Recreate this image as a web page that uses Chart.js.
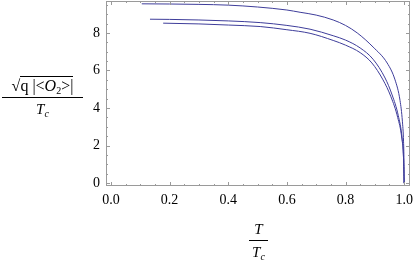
<!DOCTYPE html>
<html>
<head>
<meta charset="utf-8">
<script src="https://cdn.jsdelivr.net/npm/chart.js@4.4.0/dist/chart.umd.min.js"></script>
<style>
  html, body { margin: 0; padding: 0; background: #fff; }
  #wrap { position: relative; width: 415px; height: 262px; }
  .frac { position: absolute; font-family: "Liberation Serif", serif; font-size: 15px; color: #000; text-align: center; line-height: 16px; }
  .frac .num { display: block; border-bottom: 1px solid #000; padding-bottom: 3px; }
  .frac .den { display: block; padding-top: 3px; }
  .rad { border-top: 1px solid #000; }
  i { font-style: italic; }
  sub { font-size: 10px; vertical-align: -3px; line-height: 0; }
</style>
</head>
<body>
<div id="wrap">
  <canvas id="chart" width="415" height="262"></canvas>
  <div class="frac" id="ytitle" style="left:2px; top:78px; width:81px;">
    <span class="num" style="font-size:16px;">&radic;<span class="rad">q |&lt;<i>O</i><sub>2</sub>&gt;|</span></span>
    <span class="den"><i>T</i><sub><i>c</i></sub></span>
  </div>
  <div class="frac" id="xtitle" style="left:249px; top:221px; width:19px;">
    <span class="num"><i>T</i></span>
    <span class="den"><i>T</i><sub><i>c</i></sub></span>
  </div>
</div>
<script>
// three curves
const tA = [0.105, 0.2, 0.3, 0.4, 0.5, 0.6, 0.645, 0.7, 0.758, 0.8, 0.84, 0.894, 0.942, 0.969, 0.986, 0.994, 0.998, 0.9995, 1.0];
const vA = [9.55, 9.54, 9.52, 9.48, 9.38, 9.22, 9.1, 8.95, 8.69, 8.4, 8.0, 7.25, 6.4, 5.5, 4.4, 3.3, 2.2, 1.1, 0];

const tB = [0.133, 0.2, 0.3, 0.4, 0.509, 0.6, 0.679, 0.758, 0.8, 0.85, 0.894, 0.935, 0.959, 0.98, 0.993, 0.998, 1.0];
const vB = [8.73, 8.72, 8.69, 8.64, 8.55, 8.4, 8.2, 7.85, 7.62, 7.2, 6.6, 5.6, 4.7, 3.6, 2.4, 1.3, 0];

const tC = [0.178, 0.3, 0.4, 0.509, 0.6, 0.679, 0.758, 0.8, 0.85, 0.89, 0.928, 0.955, 0.978, 0.992, 0.998, 1.0];
const vC = [8.52, 8.48, 8.42, 8.34, 8.17, 7.98, 7.6, 7.35, 6.95, 6.4, 5.5, 4.6, 3.5, 2.4, 1.3, 0];

const xTicks = [0, 0.2, 0.4, 0.6, 0.8, 1.0];
const yTicks = [0, 2, 4, 6, 8];

const lineColor = '#3e3d9a';
const frameColor = '#9a9a9a';

const pts = (t, v) => t.map((x, i) => ({ x: x, y: v[i] }));

// Mathematica style frame with inward ticks on all four sides
const frameTicks = {
  id: 'frameTicks',
  afterDraw(chart) {
    const { ctx, chartArea: a, scales: { x, y } } = chart;
    ctx.save();
    ctx.strokeStyle = frameColor;
    ctx.lineWidth = 1;
    ctx.strokeRect(a.left + 0.5, a.top + 0.5, a.right - a.left - 1, a.bottom - a.top - 1);
    ctx.beginPath();
    for (let k = 0; k <= 20; k++) {
      const val = k * 0.05;
      const px = Math.round(x.getPixelForValue(val)) + 0.5;
      const len = k % 4 === 0 ? 4 : 2;
      ctx.moveTo(px, a.bottom); ctx.lineTo(px, a.bottom - len);
      ctx.moveTo(px, a.top); ctx.lineTo(px, a.top + len);
    }
    for (let k = 0; k <= 19; k++) {
      const val = k * 0.5;
      const py = Math.round(y.getPixelForValue(val)) + 0.5;
      const len = k % 4 === 0 ? 4 : 2;
      ctx.moveTo(a.left, py); ctx.lineTo(a.left + len, py);
      ctx.moveTo(a.right, py); ctx.lineTo(a.right - len, py);
    }
    ctx.stroke();
    ctx.restore();
  }
};

const noPad = s => { s.paddingTop = 0; s.paddingBottom = 0; s.paddingLeft = 0; s.paddingRight = 0; };

const ds = (data) => ({
  data: data,
  showLine: true,
  borderColor: lineColor,
  borderWidth: 1,
  pointRadius: 0,
  cubicInterpolationMode: 'monotone',
  fill: false
});

new Chart(document.getElementById('chart').getContext('2d'), {
  type: 'scatter',
  data: {
    datasets: [ds(pts(tA, vA)), ds(pts(tB, vB)), ds(pts(tC, vC))]
  },
  options: {
    responsive: false,
    animation: false,
    layout: { padding: { top: 1, right: 5, left: 0, bottom: 0 } },
    plugins: { legend: { display: false }, tooltip: { enabled: false } },
    scales: {
      x: {
        type: 'linear',
        min: -0.017,
        max: 1.02,
        afterBuildTicks: s => { s.ticks = xTicks.map(v => ({ value: v })); },
        afterFit: s => { s.height = 76; noPad(s); },
        grid: { display: false, drawTicks: false },
        border: { display: false },
        ticks: {
          padding: 6,
          color: '#000',
          font: { family: 'Liberation Serif', size: 14 },
          callback: v => v.toFixed(1)
        }
      },
      y: {
        type: 'linear',
        min: -0.15,
        max: 9.7,
        afterBuildTicks: s => { s.ticks = yTicks.map(v => ({ value: v })); },
        afterFit: s => { s.width = 106; noPad(s); },
        grid: { display: false, drawTicks: false },
        border: { display: false },
        ticks: {
          padding: 6,
          color: '#000',
          font: { family: 'Liberation Serif', size: 14 },
          callback: v => String(v)
        }
      }
    }
  },
  plugins: [frameTicks]
});
</script>
</body>
</html>
